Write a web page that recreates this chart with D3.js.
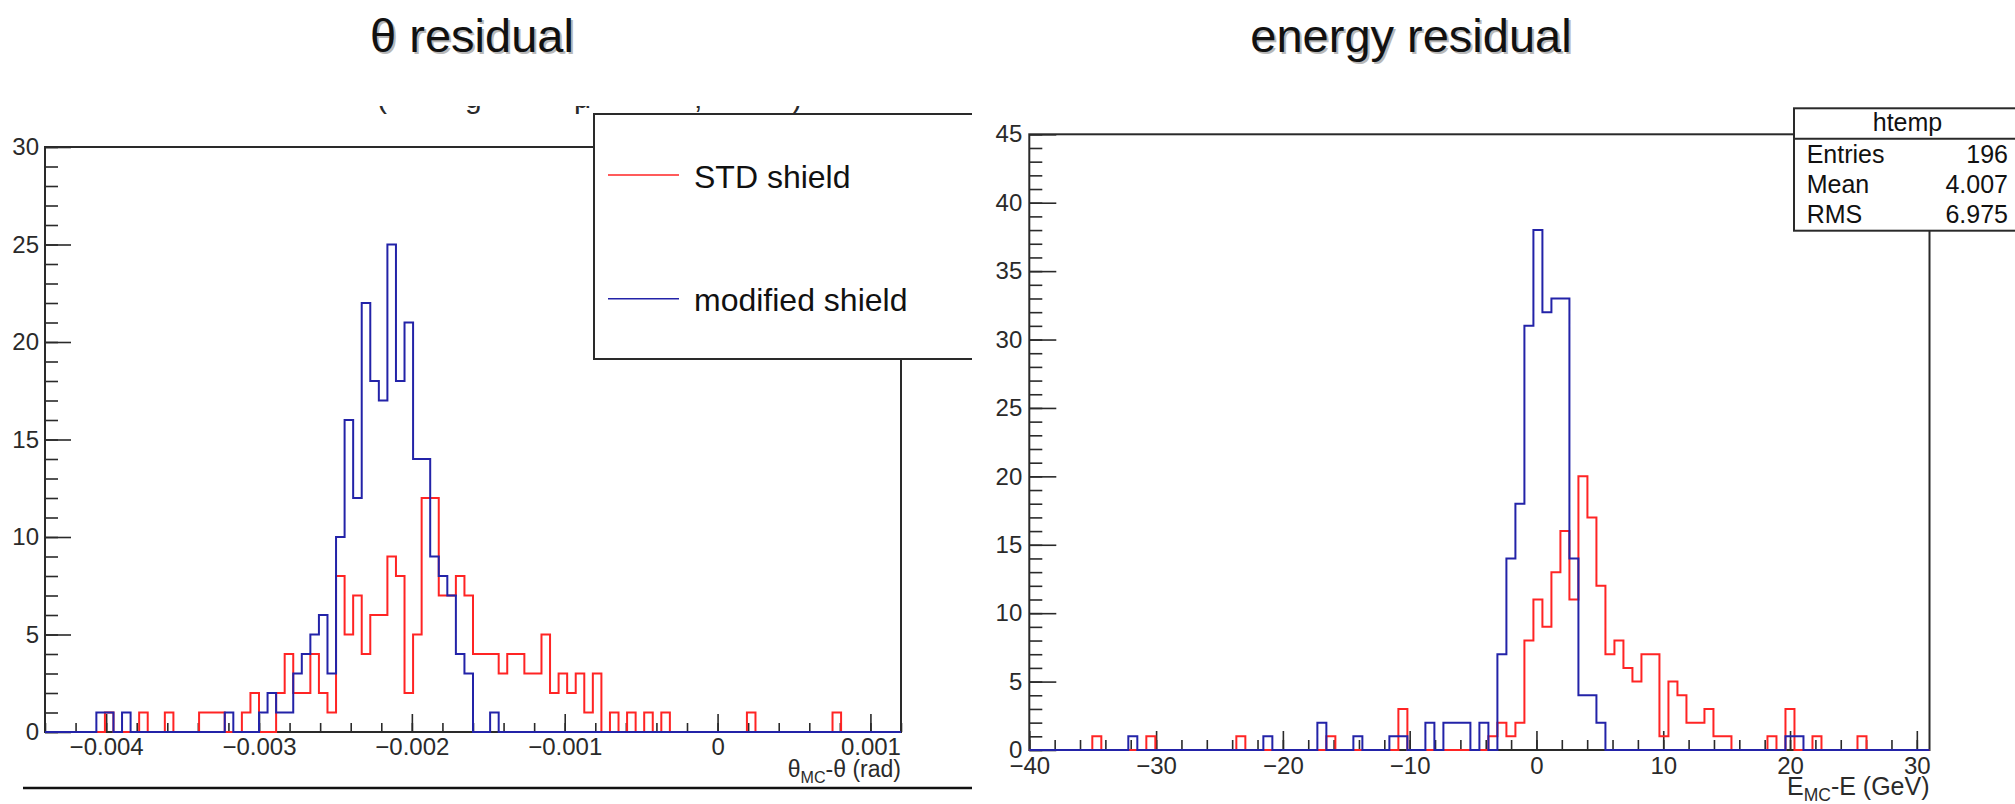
<!DOCTYPE html>
<html>
<head>
<meta charset="utf-8">
<script src="https://cdn.jsdelivr.net/npm/d3@7"></script>
<style>
  body { margin: 0; background: #fff; }
  svg { display: block; font-family: "Liberation Sans", Arial, sans-serif; }
</style>
</head>
<body>
<svg id="chart" width="2015" height="804"></svg>
<script>
// theta residual: 100 bins between the axis limits
const thetaRange = [-0.0044, 0.0012];
const thetaTicks = [-0.004, -0.003, -0.002, -0.001, 0, 0.001];
const thetaCountTicks = [0, 5, 10, 15, 20, 25, 30];
const thetaStd = [
  0,0,0,0,0,0,0,1,0,0,
  0,1,0,0,1,0,0,0,1,1,
  1,0,0,1,2,0,0,2,4,2,
  2,4,2,1,8,5,7,4,6,6,
  9,8,2,5,12,12,7,7,8,7,
  4,4,4,3,4,4,3,3,5,2,
  3,2,3,1,3,0,1,0,1,0,
  1,0,1,0,0,0,0,0,0,0,
  0,0,1,0,0,0,0,0,0,0,
  0,0,1,0,0,0,0,0,0,0
];
const thetaMod = [
  0,0,0,0,0,0,1,1,0,1,
  0,0,0,0,0,0,0,0,0,0,
  0,1,0,0,0,1,2,1,1,3,
  4,5,6,3,10,16,12,22,18,17,
  25,18,21,14,14,9,8,7,4,3,
  0,0,1,0,0,0,0,0,0,0,
  0,0,0,0,0,0,0,0,0,0,
  0,0,0,0,0,0,0,0,0,0,
  0,0,0,0,0,0,0,0,0,0,
  0,0,0,0,0,0,0,0,0,0
];

// energy residual (GeV): 100 bins
const energyRange = [-40, 31];
const energyTicks = [-40, -30, -20, -10, 0, 10, 20, 30];
const energyCountTicks = [0, 5, 10, 15, 20, 25, 30, 35, 40, 45];
const energyStd = [
  0,0,0,0,0,0,0,1,0,0,
  0,0,0,1,0,0,0,0,0,0,
  0,0,0,1,0,0,0,0,0,0,
  0,0,0,1,0,0,0,0,0,0,
  0,3,0,0,0,0,0,0,0,0,
  0,1,2,1,2,8,11,9,13,16,
  11,20,17,12,7,8,6,5,7,7,
  1,5,4,2,2,3,1,1,0,0,
  0,0,1,0,3,0,0,1,0,0,
  0,0,1,0,0,0,0,0,0,0
];
const energyMod = [
  0,0,0,0,0,0,0,0,0,0,
  0,1,0,0,0,0,0,0,0,0,
  0,0,0,0,0,0,1,0,0,0,
  0,0,2,0,0,0,1,0,0,0,
  1,1,0,0,2,0,2,2,2,0,
  2,0,7,14,18,31,38,32,33,33,
  14,4,4,2,0,0,0,0,0,0,
  0,0,0,0,0,0,0,0,0,0,
  0,0,0,0,1,1,0,0,0,0,
  0,0,0,0,0,0,0,0,0,0
];

const legendLabels = ["STD shield", "modified shield"];
const statsRows = [["Entries", "196"], ["Mean", "4.007"], ["RMS", "6.975"]];

const red = "#ff2424";
const blue = "#2323a8";
const ink = "#2a2a2a";

const svg = d3.select("#chart");
svg.append("rect").attr("width", 2015).attr("height", 804).attr("fill", "#fff");

// step outline like a ROOT TH1
function histPath(x, y, counts) {
  const [lo, hi] = x.domain();
  const w = (hi - lo) / counts.length;
  const pts = [[lo, 0]];
  counts.forEach((c, i) => pts.push([lo + i * w, c]));
  pts.push([hi, 0]);
  return d3.line().x(d => x(d[0])).y(d => y(d[1])).curve(d3.curveStepAfter)(pts);
}

function drawAxes(g, x, y, o) {
  const base = y.range()[0];
  const left = x.range()[0];
  g.append("rect")
    .attr("x", left).attr("y", y.range()[1])
    .attr("width", x.range()[1] - left).attr("height", base - y.range()[1])
    .attr("fill", "none").attr("stroke", ink).attr("stroke-width", 2);

  const fix = a => a.attr("font-size", o.fontSize).attr("font-family", null).attr("color", ink)
    .call(s => s.select(".domain").remove())
    .call(s => s.selectAll("line").attr("stroke-width", 1.6));

  g.append("g").attr("transform", `translate(0,${base})`)
    .call(d3.axisBottom(x).tickValues(o.xMinor).tickSize(-o.xMinorLen).tickFormat(""))
    .call(fix);
  g.append("g").attr("transform", `translate(0,${base})`)
    .call(d3.axisBottom(x).tickValues(o.xTicks).tickSize(-o.xMajorLen).tickPadding(o.xPad).tickFormat(o.xFmt))
    .call(fix);
  g.append("g").attr("transform", `translate(${left},0)`)
    .call(d3.axisLeft(y).tickValues(o.yMinor).tickSize(-o.yMinorLen).tickFormat(""))
    .call(fix);
  g.append("g").attr("transform", `translate(${left},0)`)
    .call(d3.axisLeft(y).tickValues(o.yTicks).tickSize(-o.yMajorLen).tickPadding(o.yPad).tickFormat(d3.format("d")))
    .call(fix);
}

function drawHists(g, x, y, series) {
  series.forEach(s => {
    g.append("path").attr("d", histPath(x, y, s.counts))
      .attr("fill", "none").attr("stroke", s.color).attr("stroke-width", 2);
  });
}

function axisTitle(g, xEnd, yBase, sym, rest, size) {
  const t = g.append("text").attr("x", xEnd).attr("y", yBase)
    .attr("text-anchor", "end").attr("font-size", size).attr("fill", ink);
  t.append("tspan").text(sym);
  t.append("tspan").attr("font-size", size * 0.7).attr("dy", 6).text("MC");
  t.append("tspan").attr("dy", -6).text(rest);
}

function slideTitle(x, text) {
  svg.append("text").attr("x", x + 2).attr("y", 54).attr("text-anchor", "middle")
    .attr("font-size", 47).attr("fill", "#b8b8b8").text(text);
  svg.append("text").attr("x", x).attr("y", 52).attr("text-anchor", "middle")
    .attr("font-size", 47).attr("fill", "#111").text(text);
}

slideTitle(472, "θ residual");
slideTitle(1411, "energy residual");

// ---------- left panel (cropped screenshot) ----------
svg.append("clipPath").attr("id", "leftClip")
  .append("rect").attr("x", 0).attr("y", 0).attr("width", 972).attr("height", 804);
svg.append("clipPath").attr("id", "cutTitle")
  .append("rect").attr("x", 0).attr("y", 106).attr("width", 972).attr("height", 20);

const left = svg.append("g").attr("clip-path", "url(#leftClip)");

const xL = d3.scaleLinear().domain(thetaRange).range([45, 901]);
const yL = d3.scaleLinear().domain([0, 30]).range([732, 147]);

// bottom of a clipped-off title line
const cut = left.append("g").attr("clip-path", "url(#cutTitle)")
  .append("text").attr("y", 108).attr("font-size", 30).attr("fill", ink);
[["(", 377], ["g", 465], ["μ", 574], [",", 694], [")", 792]].forEach(([c, px]) =>
  cut.append("tspan").attr("x", px).text(c));

drawAxes(left, xL, yL, {
  fontSize: 24,
  xTicks: thetaTicks, xMinor: d3.range(-22, 7).map(i => i * 0.0002),
  xMajorLen: 18, xMinorLen: 9, xPad: 6, xFmt: d3.format("~g"),
  yTicks: thetaCountTicks, yMinor: d3.range(0, 31),
  yMajorLen: 26, yMinorLen: 13, yPad: 6
});
drawHists(left, xL, yL, [{ counts: thetaStd, color: red }, { counts: thetaMod, color: blue }]);
axisTitle(left, 901, 777, "θ", "-θ (rad)", 23);

// legend box
const leg = left.append("g");
leg.append("rect").attr("x", 594).attr("y", 114).attr("width", 420).attr("height", 245)
  .attr("fill", "#fff").attr("stroke", ink).attr("stroke-width", 2);
[[red, 175], [blue, 298.7]].forEach(([c, ly], i) => {
  leg.append("line").attr("x1", 608).attr("x2", 679).attr("y1", ly).attr("y2", ly)
    .attr("stroke", c).attr("stroke-width", 1.6);
  leg.append("text").attr("x", 694).attr("y", ly + 12.5).attr("font-size", 32)
    .attr("fill", "#111").text(legendLabels[i]);
});

left.append("line").attr("x1", 23).attr("x2", 972).attr("y1", 788).attr("y2", 788)
  .attr("stroke", "#111").attr("stroke-width", 2.5);

// ---------- right panel ----------
const right = svg.append("g");
const xR = d3.scaleLinear().domain(energyRange).range([1029.3, 1929.5]);
const yR = d3.scaleLinear().domain([0, 45]).range([750, 134.3]);

drawAxes(right, xR, yR, {
  fontSize: 24,
  xTicks: energyTicks, xMinor: d3.range(-40, 32, 2),
  xMajorLen: 19, xMinorLen: 10, xPad: 7, xFmt: d3.format("d"),
  yTicks: energyCountTicks, yMinor: d3.range(0, 46),
  yMajorLen: 27, yMinorLen: 13, yPad: 7
});
drawHists(right, xR, yR, [{ counts: energyStd, color: red }, { counts: energyMod, color: blue }]);
axisTitle(right, 1929.5, 795, "E", "-E (GeV)", 25);

// stats box
const st = right.append("g");
st.append("rect").attr("x", 1794).attr("y", 108.3).attr("width", 260).attr("height", 122.4)
  .attr("fill", "#fff").attr("stroke", ink).attr("stroke-width", 2);
st.append("line").attr("x1", 1794).attr("x2", 2015).attr("y1", 138.7).attr("y2", 138.7)
  .attr("stroke", ink).attr("stroke-width", 2);
st.append("text").attr("x", 1907.5).attr("y", 130.7).attr("text-anchor", "middle")
  .attr("font-size", 25).attr("fill", "#111").text("htemp");
statsRows.forEach(([k, v], i) => {
  const yy = [162.7, 193.3, 222.7][i];
  st.append("text").attr("x", 1806.7).attr("y", yy).attr("font-size", 25).attr("fill", "#111").text(k);
  st.append("text").attr("x", 2008).attr("y", yy).attr("text-anchor", "end")
    .attr("font-size", 25).attr("fill", "#111").text(v);
});
</script>
</body>
</html>
